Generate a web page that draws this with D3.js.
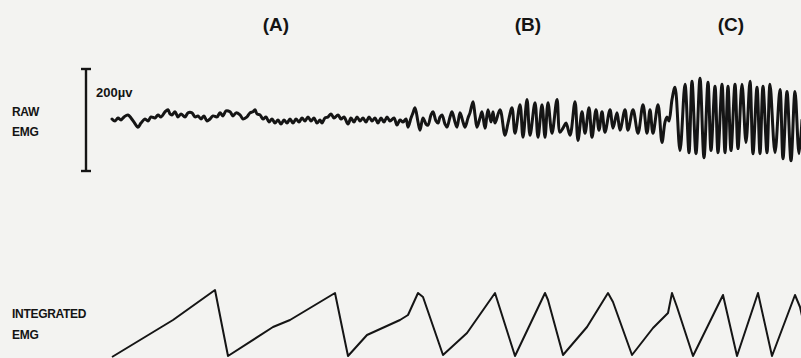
<!DOCTYPE html>
<html>
<head>
<meta charset="utf-8">
<script src="https://cdn.jsdelivr.net/npm/d3@7"></script>
<style>
  html, body { margin: 0; padding: 0; background: #f3f3f1; }
  svg { display: block; }
  text { font-family: "Liberation Sans", Arial, Helvetica, sans-serif; fill: #141414; }
</style>
</head>
<body>
<svg width="801" height="358"></svg>
<script>
// raw EMG trace (time units, microvolts)
const rawTime = [0, 3, 6, 9, 12, 16, 19, 22, 26, 29, 33, 36, 39, 43, 46, 49, 53, 56, 58, 60,
  63, 66, 69, 73, 76, 80, 83, 86, 89, 92, 95, 98, 101, 105, 108, 111, 114, 118, 121, 124,
  128, 131, 135, 138, 141, 143, 145, 148, 151, 154, 157, 160, 163, 166, 169, 172, 175, 178, 181, 184,
  187, 190, 193, 196, 199, 202, 205, 208, 210, 213, 216, 219, 222, 226, 229, 232, 236, 239, 242, 245,
  248, 251, 254, 257, 260, 263, 266, 269, 272, 275, 278, 282, 285, 288, 291, 294, 296, 299, 301, 303,
  306, 308, 311, 314, 316, 319, 321, 324, 326, 328, 330, 333, 335, 338, 340, 343, 345, 348, 351, 353,
  356, 358, 361, 363, 365, 368, 370, 373, 376, 379, 381, 383, 388, 393, 396, 400, 403, 408, 411, 415,
  418, 423, 426, 430, 433, 436, 440, 445, 448, 451, 454, 458, 463, 466, 470, 473, 477, 480, 484, 487,
  490, 493, 498, 501, 505, 508, 513, 516, 521, 526, 531, 535, 538, 541, 546, 550, 553, 555, 557, 560,
  563, 568, 573, 577, 580, 584, 588, 592, 596, 599, 603, 606, 610, 613, 616, 619, 623, 626, 630, 634,
  638, 641, 645, 648, 651, 655, 658, 663, 668, 671, 675, 679, 683, 687, 690];
const rawMicrovolts = [2, -2, 4, 0, 6, 10, 4, -4, -14, -6, 2, -2, 6, 4, 10, 6, 16, 20, 12, 10,
  16, 6, 12, 6, 14, 14, 6, 8, 2, 8, -2, 2, 8, 6, 14, 8, 18, 16, 8, 14,
  10, 2, 6, 14, 16, 20, 12, 10, 2, 6, -4, 2, -6, 0, -8, 0, -6, 2, -6, 2,
  -4, 4, -2, 6, -2, 4, -6, 0, -6, 4, 6, 12, 4, 10, 2, 6, -8, 4, -4, 6,
  -2, 4, -4, 6, -2, 4, -6, 4, -4, 6, -2, 4, -10, 0, -4, 2, -14, 4, 14, 24,
  -4, -20, 4, -8, -10, 10, 16, -2, -6, 6, 10, -8, -14, 6, 16, -4, -14, 14, -4, -14,
  4, 14, 36, 10, -14, 4, 16, -16, 20, -4, 16, -6, 20, -30, -6, 24, -26, 30, -34, 40,
  -30, 34, -34, 30, -34, 34, -26, 40, -24, -16, -6, -30, 36, -40, 16, -26, 24, -34, 20, -20,
  16, -24, 20, -16, 14, -20, 20, -20, 20, -26, 30, -26, 20, -26, 30, -44, -4, 6, -2, 40,
  64, -60, 70, -64, 76, -66, 82, -74, 74, -60, 66, -64, 70, -64, 66, -60, 70, -56, 70, -44,
  76, -66, 64, -66, 66, -64, 70, -64, 60, -76, 56, -80, 56, -66, 0];

// integrated EMG (resetting integrator), arbitrary units
const intTime = [0, 61, 103, 116, 161, 178, 223, 236, 255, 288, 296, 306, 311, 331, 355, 383, 403,
  433, 436, 451, 475, 496, 501, 520, 541, 556, 560, 565, 581, 611, 625, 646, 660, 683, 688, 692];
const intValue = [1, 38, 68, 2, 31, 38, 65, 2, 23, 38, 43, 65, 61, 3, 25, 65, 2,
  65, 58, 3, 31, 65, 56, 3, 30, 45, 65, 51, 2, 63, 2, 65, 2, 63, 51, 33];

const phaseLabels = ["(A)", "(B)", "(C)"];
const phaseTimes = [164, 416, 619];
const rowLabels = [["RAW", "EMG"], ["INTEGRATED", "EMG"]];
const scaleBarLabel = "200\u00b5v";
const scaleBarMicrovolts = 200;

const svg = d3.select("svg");
const W = 801, H = 358;
svg.append("rect").attr("width", W).attr("height", H).attr("fill", "#f3f3f1");

const x = d3.scaleLinear().domain([0, 690]).range([112, 802]);
const yRaw = d3.scaleLinear().domain([-100, 100]).range([171, 69]);
const yInt = d3.scaleLinear().domain([0, 70]).range([358, 288]);

const ink = "#151515";

// phase labels
svg.selectAll("text.phase").data(phaseLabels).join("text")
  .attr("class", "phase")
  .attr("x", (d, i) => x(phaseTimes[i]))
  .attr("y", 31)
  .attr("text-anchor", "middle")
  .attr("font-size", 19)
  .attr("font-weight", "bold")
  .text(d => d);

// row labels
const rowY = [[116, 136], [318, 339]];
rowLabels.forEach((lines, r) => {
  lines.forEach((t, k) => {
    svg.append("text")
      .attr("x", 12).attr("y", rowY[r][k])
      .attr("font-size", 12).attr("font-weight", "bold")
      .attr("letter-spacing", -0.3)
      .text(t);
  });
});

// scale bar
const barX = 86;
const yTop = yRaw(scaleBarMicrovolts / 2), yBot = yRaw(-scaleBarMicrovolts / 2);
const bar = svg.append("g").attr("stroke", ink).attr("stroke-width", 2.4);
bar.append("line").attr("x1", barX).attr("x2", barX).attr("y1", yTop).attr("y2", yBot);
bar.append("line").attr("x1", barX - 5).attr("x2", barX + 5).attr("y1", yTop).attr("y2", yTop);
bar.append("line").attr("x1", barX - 5).attr("x2", barX + 5).attr("y1", yBot).attr("y2", yBot);
svg.append("text").attr("x", 96).attr("y", 97)
  .attr("font-size", 13).attr("font-weight", "bold")
  .text(scaleBarLabel);

// raw trace
const rawData = rawTime.map((t, i) => [t, rawMicrovolts[i]]);
svg.append("path")
  .datum(rawData)
  .attr("fill", "none")
  .attr("stroke", ink)
  .attr("stroke-width", 3)
  .attr("stroke-linejoin", "round")
  .attr("stroke-linecap", "round")
  .attr("d", d3.line().x(d => x(d[0])).y(d => yRaw(d[1])).curve(d3.curveCatmullRom.alpha(0.5)));

// integrated trace
const intData = intTime.map((t, i) => [t, intValue[i]]);
svg.append("path")
  .datum(intData)
  .attr("fill", "none")
  .attr("stroke", ink)
  .attr("stroke-width", 2)
  .attr("stroke-linejoin", "round")
  .attr("d", d3.line().x(d => x(d[0])).y(d => yInt(d[1])));
</script>
</body>
</html>
